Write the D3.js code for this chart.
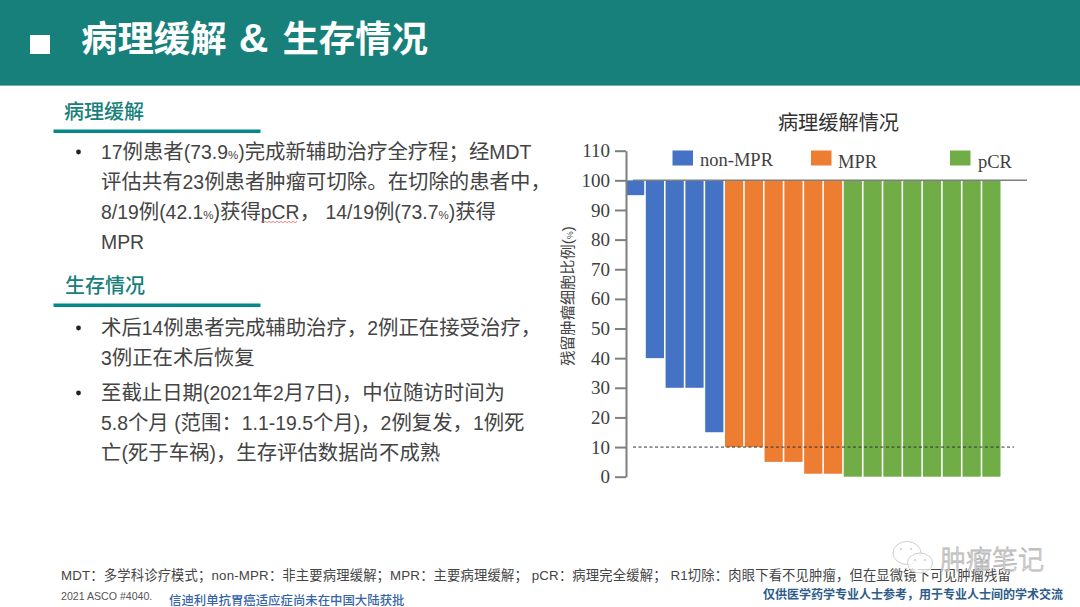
<!DOCTYPE html>
<html>
<head>
<meta charset="utf-8">
<script src="https://cdn.jsdelivr.net/npm/d3@7"></script>
<style>
  html, body { margin: 0; padding: 0; background: #fff; }
  svg { display: block; }
  text { font-family: "Liberation Sans", "Noto Sans CJK SC", sans-serif; white-space: pre; }
  .axis text { font-family: "Liberation Serif", serif; font-size: 19px; fill: #404040; }
  .axis path, .axis line { stroke: #7f7f7f; stroke-width: 2px; }
  .legend text { font-family: "Liberation Serif", serif; font-size: 18.5px; fill: #404040; }
</style>
</head>
<body>
<svg width="1080" height="607"></svg>
<script>
// residual tumour cells per patient, sorted
var nonMpr = [95, 40, 30, 30, 15],
    mpr = [10, 10, 5, 5, 1, 1],
    pcr = [0, 0, 0, 0, 0, 0, 0, 0];

var groupNames = ['non-MPR', 'MPR', 'pCR'],
    groupColors = ['#4472c4', '#ed7d31', '#70ad47'],
    yTicks = [0, 10, 20, 30, 40, 50, 60, 70, 80, 90, 100, 110];

var chartTitle = '病理缓解情况',
    heading1 = '病理缓解',
    heading2 = '生存情况';

var para1 = ['17例患者(73.9%)完成新辅助治疗全疗程；经MDT',
             '评估共有23例患者肿瘤可切除。在切除的患者中，',
             '8/19例(42.1%)获得pCR， 14/19例(73.7%)获得',
             'MPR'],
    para2 = ['术后14例患者完成辅助治疗，2例正在接受治疗，',
             '3例正在术后恢复'],
    para3 = ['至截止日期(2021年2月7日)，中位随访时间为',
             '5.8个月 (范围：1.1-19.5个月)，2例复发，1例死',
             '亡(死于车祸)，生存评估数据尚不成熟'];

var footnote = 'MDT：多学科诊疗模式；non-MPR：非主要病理缓解；MPR：主要病理缓解； pCR：病理完全缓解； R1切除：肉眼下看不见肿瘤，但在显微镜下可见肿瘤残留',
    citation = '2021 ASCO #4040.',
    notice = '信迪利单抗胃癌适应症尚未在中国大陆获批',
    disclaimer = '仅供医学药学专业人士参考，用于专业人士间的学术交流',
    watermark = '肿瘤笔记';

var teal = '#17807a',
    tealLine = '#05888a',
    textColor = '#444';

var svg = d3.select('svg');

// latin runs are set smaller than the cjk, the percent sign much smaller
function runs(sel, line, latinSize, percentSize) {
  line.match(/%|[\x20-\x24\x26-\x7e]+|[^\x20-\x7e]+/g).forEach(function(run) {
    var t = sel.append('tspan').text(run);
    if (run === '%') t.attr('font-size', percentSize);
    else if (/^[\x20-\x7e]/.test(run)) t.attr('font-size', latinSize);
  });
}

// header band
svg.append('rect').attr('width', 1080).attr('height', 85).attr('fill', teal);
svg.append('rect').attr('y', 85).attr('width', 1080).attr('height', 1).attr('fill', '#6fb0aa');
svg.append('rect').attr('x', 30).attr('y', 35).attr('width', 20).attr('height', 19).attr('fill', '#fff');
var titleText = svg.append('text').attr('x', 81).attr('y', 52)
    .attr('font-size', 36.4).attr('font-weight', 700).attr('fill', '#fff');
titleText.append('tspan').text('病理缓解 ');
titleText.append('tspan').attr('font-size', 41).attr('dx', 2).text('&');
titleText.append('tspan').attr('dx', 4).text(' 生存情况');

// left column
function heading(label, x, y) {
  svg.append('text').attr('x', x).attr('y', y)
      .attr('font-size', 20).attr('font-weight', 500).attr('fill', teal)
      .text(label);
  svg.append('rect').attr('x', 53.5).attr('y', y + 10.5).attr('width', 207).attr('height', 3.5)
      .attr('fill', tealLine);
}

function paragraph(lines, y0) {
  svg.append('circle').attr('cx', 78.5).attr('cy', y0 - 7).attr('r', 2.4).attr('fill', '#222');
  lines.forEach(function(line, i) {
    var t = svg.append('text').attr('x', 101).attr('y', y0 + i * 29.9)
        .attr('font-size', 20.4).attr('fill', textColor);
    runs(t, line, 19.4, 11.5);
  });
}

heading(heading1, 64, 119);
heading(heading2, 65, 293);
paragraph(para1, 159);
paragraph(para2, 335);
paragraph(para3, 400);

// red spellcheck squiggle under pCR
var squiggle = d3.range(0, 38, 2).map(function(d, i) { return [261 + d, 221.5 + (i % 2)]; });
svg.append('path').attr('d', d3.line()(squiggle))
    .attr('fill', 'none').attr('stroke', '#d9534f').attr('stroke-width', 0.7);

// waterfall chart
var values = nonMpr.concat(mpr, pcr);
var groups = nonMpr.map(function() { return 0; })
    .concat(mpr.map(function() { return 1; }), pcr.map(function() { return 2; }));

var x = d3.scaleBand().domain(d3.range(values.length)).range([626, 1000.5]).paddingInner(0.08).paddingOuter(0);
var y = d3.scaleLinear().domain([0, 110]).range([476.7, 150.7]);

svg.append('text').attr('x', 838.5).attr('y', 130)
    .attr('text-anchor', 'middle').attr('font-size', 20.2).attr('fill', '#333')
    .text(chartTitle);

svg.append('g').selectAll('rect')
    .data(values)
    .join('rect')
    .attr('x', function(d, i) { return x(i); })
    .attr('y', y(100))
    .attr('width', x.bandwidth())
    .attr('height', function(d) { return y(d) - y(100); })
    .attr('fill', function(d, i) { return groupColors[groups[i]]; });

var axis = d3.axisLeft(y).tickValues(yTicks).tickSize(11).tickPadding(5).tickSizeOuter(0);
svg.append('g').attr('class', 'axis')
    .attr('transform', 'translate(626,0)')
    .call(axis);

// reference lines at 100 and 10
svg.append('line').attr('x1', 633).attr('x2', 1027).attr('y1', y(100)).attr('y2', y(100))
    .attr('stroke', '#7f7f7f').attr('stroke-width', 1.5);
svg.append('line').attr('x1', 633).attr('x2', 1014).attr('y1', y(10)).attr('y2', y(10))
    .attr('stroke', '#333').attr('stroke-width', 1).attr('stroke-dasharray', '3 2.5');

var yLabel = svg.append('text')
    .attr('transform', 'translate(573,296) rotate(-90)')
    .attr('text-anchor', 'middle').attr('font-size', 15.2).attr('fill', '#444');
yLabel.append('tspan').text('残留肿瘤细胞比例(');
yLabel.append('tspan').attr('font-size', 9).text('%');
yLabel.append('tspan').text(')');

// legend
var legendX = [672.5, 811, 950],
    legendTextX = [700, 838, 978],
    legendTextY = [166, 168, 168];
var legend = svg.append('g').attr('class', 'legend').selectAll('g')
    .data(groupNames)
    .join('g');
legend.append('rect')
    .attr('x', function(d, i) { return legendX[i]; })
    .attr('y', 150.5)
    .attr('width', 20.5)
    .attr('height', 15)
    .attr('fill', function(d, i) { return groupColors[i]; });
legend.append('text')
    .attr('x', function(d, i) { return legendTextX[i]; })
    .attr('y', function(d, i) { return legendTextY[i]; })
    .text(function(d) { return d; });

// footer
var footText = svg.append('text').attr('x', 61).attr('y', 580)
    .attr('font-size', 13.3).attr('letter-spacing', 0.17).attr('fill', textColor);
runs(footText, footnote, 13.3, 13.3);
svg.append('text').attr('x', 61).attr('y', 600).attr('font-size', 10.6).attr('fill', '#555').text(citation);
svg.append('text').attr('x', 169).attr('y', 605).attr('font-size', 12.4).attr('font-weight', 500).attr('fill', '#3565a8').text(notice);
svg.append('text').attr('x', 763).attr('y', 599).attr('font-size', 12).attr('font-weight', 700).attr('fill', '#2e5c8a').text(disclaimer);

// wechat style watermark
var wm = svg.append('g').attr('fill', 'rgba(255,255,255,0.75)').attr('stroke', '#cfcfcf').attr('stroke-width', 1);
wm.append('ellipse').attr('cx', 907).attr('cy', 553).attr('rx', 14).attr('ry', 11.5);
wm.append('ellipse').attr('cx', 920).attr('cy', 563).attr('rx', 12.5).attr('ry', 10);
[[901, 549], [911, 549], [915, 560], [925, 560]].forEach(function(p) {
  wm.append('circle').attr('cx', p[0]).attr('cy', p[1]).attr('r', 0.9).attr('fill', '#c4c4c4').attr('stroke', 'none');
});
wm.append('text').attr('x', 940).attr('y', 569)
    .attr('font-size', 26).attr('font-weight', 300)
    .attr('fill', 'rgba(255,255,255,0.8)').attr('stroke', '#b5b5b5').attr('stroke-width', 0.8)
    .text(watermark);
</script>
</body>
</html>
